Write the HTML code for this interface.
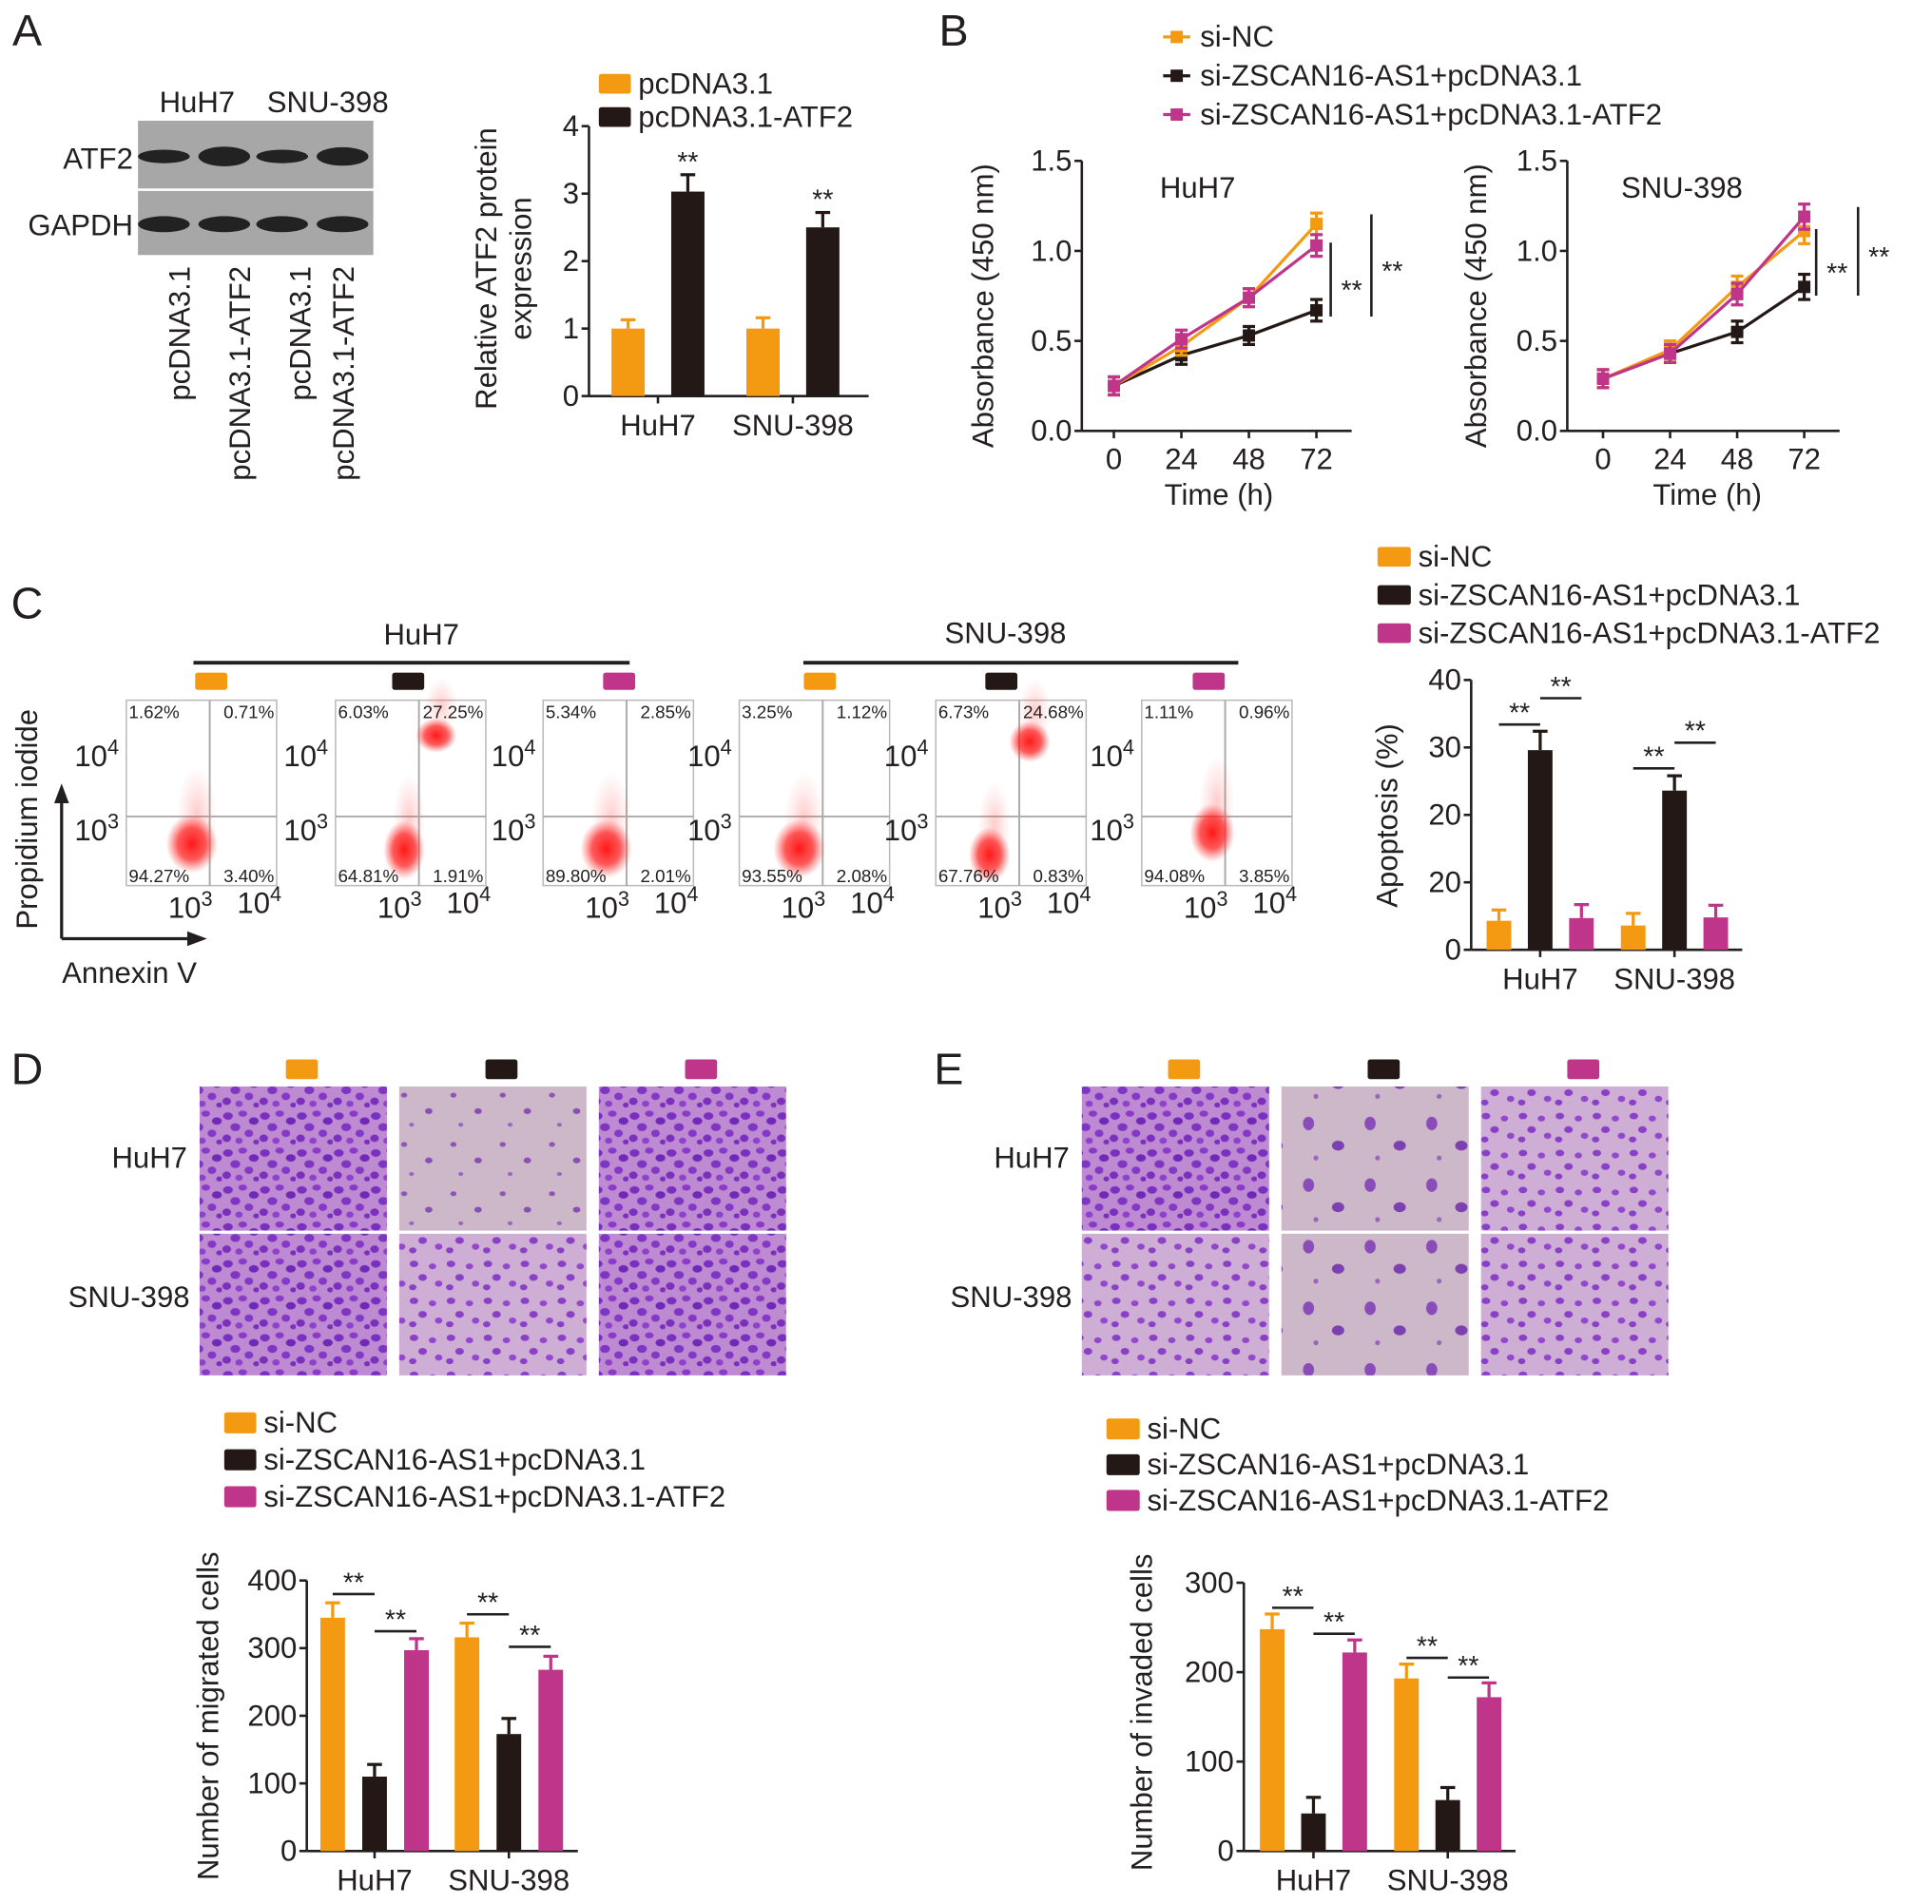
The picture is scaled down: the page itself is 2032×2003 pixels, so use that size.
<!DOCTYPE html>
<html><head><meta charset="utf-8"><style>
html,body{margin:0;padding:0;background:#fff}
svg{display:block}
text{font-family:"Liberation Sans",Arial,sans-serif;fill:#231f20}
</style></head><body>
<svg id="fig" xmlns="http://www.w3.org/2000/svg" width="2032" height="2003" viewBox="0 0 1568 1545.6" preserveAspectRatio="none">
<defs>
<radialGradient id="dot" cx="50%" cy="50%" r="50%"><stop offset="0%" stop-color="#ff0000" stop-opacity="1"/><stop offset="55%" stop-color="#ff1a1a" stop-opacity="0.8"/><stop offset="100%" stop-color="#ff4040" stop-opacity="0"/></radialGradient>
<radialGradient id="dotfaint" cx="50%" cy="50%" r="50%"><stop offset="0%" stop-color="#ff3030" stop-opacity="0.25"/><stop offset="100%" stop-color="#ff6060" stop-opacity="0"/></radialGradient>
<pattern id="dense" width="30" height="30" patternUnits="userSpaceOnUse">
<rect width="30" height="30" fill="#be8ad2"/>
<ellipse cx="5" cy="6" rx="4" ry="3" fill="#7a2fc0"/><ellipse cx="17" cy="4" rx="3.5" ry="2.5" fill="#8a3ac8"/>
<ellipse cx="26" cy="10" rx="4" ry="3" fill="#7028b8"/><ellipse cx="11" cy="15" rx="4" ry="3.2" fill="#7e35c2"/>
<ellipse cx="22" cy="20" rx="3.5" ry="3" fill="#8338c6"/><ellipse cx="4" cy="24" rx="3.5" ry="3" fill="#7a30bd"/>
<ellipse cx="14" cy="26" rx="3" ry="2.5" fill="#8e42cc"/><ellipse cx="28" cy="27" rx="2.5" ry="2" fill="#7a30bd"/>
</pattern>
<pattern id="medium" width="30" height="30" patternUnits="userSpaceOnUse">
<rect width="30" height="30" fill="#cfaed6"/>
<ellipse cx="6" cy="6" rx="3.5" ry="2.6" fill="#8a40c6"/><ellipse cx="21" cy="8" rx="3" ry="2.4" fill="#9247cc"/>
<ellipse cx="13" cy="17" rx="3.5" ry="2.8" fill="#8a40c6"/><ellipse cx="26" cy="22" rx="3" ry="2.5" fill="#9247cc"/>
<ellipse cx="5" cy="25" rx="3" ry="2.4" fill="#8a40c6"/>
</pattern>
<pattern id="sparse" width="40" height="40" patternUnits="userSpaceOnUse">
<rect width="40" height="40" fill="#cdb8c9"/>
<ellipse cx="8" cy="9" rx="2.5" ry="2" fill="#8e55b5"/><ellipse cx="28" cy="22" rx="3" ry="2.4" fill="#8a4fb2"/>
<ellipse cx="14" cy="33" rx="2" ry="1.6" fill="#9a66bd"/>
</pattern>
<pattern id="sparseBig" width="50" height="50" patternUnits="userSpaceOnUse">
<rect width="50" height="50" fill="#cdb8c9"/>
<ellipse cx="12" cy="12" rx="4.5" ry="5.5" fill="#8a4cb8"/><ellipse cx="36" cy="30" rx="5" ry="4" fill="#7d40b0"/>
<ellipse cx="18" cy="40" rx="2" ry="2" fill="#9a66bd"/>
</pattern>
</defs>
<g id="root"></g>
</svg>
<script>
// ===== Data =====
const aCategories = ["HuH7", "SNU-398"];
const aSeries = ["pcDNA3.1", "pcDNA3.1-ATF2"];
const aValues = [[1.0, 3.03], [1.0, 2.5]];
const aErrors = [[0.13, 0.25], [0.16, 0.22]];
const aTicks = [0, 1, 2, 3, 4];
const bTimes = [0, 24, 48, 72];
const bTickLabels = ["0", "24", "48", "72"];
const bYTicks = [0, 0.5, 1.0, 1.5];
const bYTickLabels = ["0.0", "0.5", "1.0", "1.5"];
const bSeriesNames = ["si-NC", "si-ZSCAN16-AS1+pcDNA3.1", "si-ZSCAN16-AS1+pcDNA3.1-ATF2"];
const huh7NC = [0.25, 0.47, 0.74, 1.15];
const huh7Si = [0.25, 0.42, 0.53, 0.67];
const huh7ATF2 = [0.25, 0.51, 0.74, 1.03];
const huh7Err = [0.05, 0.05, 0.05, 0.06];
const snuNC = [0.29, 0.45, 0.8, 1.11];
const snuSi = [0.29, 0.43, 0.55, 0.8];
const snuATF2 = [0.29, 0.43, 0.76, 1.19];
const snuErr = [0.05, 0.05, 0.06, 0.07];
const groups = ["HuH7", "SNU-398"];
const apoValues = [[4.3, 29.6, 4.7], [3.6, 23.6, 4.8]];
const apoErrors = [[1.6, 2.8, 2.0], [1.8, 2.2, 1.8]];
const apoTicks = [0, 10, 20, 30, 40];
const apoTickLabels = ["0", "20", "20", "30", "40"];
const apoSig = [[0, 0, 1, 33.4], [0, 1, 2, 37.3], [1, 0, 1, 26.9], [1, 1, 2, 30.7]];
const flowPct = [
  ["1.62%", "0.71%", "94.27%", "3.40%"],
  ["6.03%", "27.25%", "64.81%", "1.91%"],
  ["5.34%", "2.85%", "89.80%", "2.01%"],
  ["3.25%", "1.12%", "93.55%", "2.08%"],
  ["6.73%", "24.68%", "67.76%", "0.83%"],
  ["1.11%", "0.96%", "94.08%", "3.85%"]
];
const migValues = [[345, 110, 297], [316, 173, 268]];
const migErrors = [[22, 18, 17], [21, 23, 20]];
const migTicks = [0, 100, 200, 300, 400];
const migSig = [[0, 0, 1, 380], [0, 1, 2, 325], [1, 0, 1, 350], [1, 1, 2, 302]];
const invValues = [[248, 42, 222], [193, 57, 172]];
const invErrors = [[17, 18, 14], [16, 14, 16]];
const invTicks = [0, 100, 200, 300];
const invSig = [[0, 0, 1, 272], [0, 1, 2, 243], [1, 0, 1, 216], [1, 1, 2, 194]];

// ===== Helpers =====
const NS = "http://www.w3.org/2000/svg";
const root = document.getElementById("root");
const COL = ["#f39a12", "#231815", "#bf3589"];
function el(tag, attrs, parent, txt) {
  const e = document.createElementNS(NS, tag);
  for (const k in attrs) e.setAttribute(k, attrs[k]);
  if (txt !== undefined) e.textContent = txt;
  (parent || root).appendChild(e);
  return e;
}
function grp(name, parent) {
  const g = el("g", {}, parent);
  
  
  return g;
}
function txt(parent, name, x, y, s, size, anchor, rot) {
  const t = el("text", {x: x, y: y, "font-size": size, "text-anchor": anchor || "start"}, parent, s);
  if (rot) t.setAttribute("transform", "rotate(" + rot + " " + x + " " + y + ")");
  
  
  return t;
}
function supText(parent, name, x, y, base, exp, size) {
  const t = el("text", {x: x, y: y, "font-size": size, "text-anchor": "middle"}, parent);
  
  
  el("tspan", {}, t, base);
  el("tspan", {dy: -size * 0.4, "font-size": size * 0.7}, t, exp);
  return t;
}
function line(parent, x1, y1, x2, y2, w, c) {
  return el("line", {x1: x1, y1: y1, x2: x2, y2: y2, stroke: c || "#231f20", "stroke-width": w || 2}, parent);
}
function panelLabel(s, x, y) {
  txt(root, "panel-label-" + s.toLowerCase(), x, y, s, 36, "middle");
}

function barChart(cfg) {
  const g = grp(cfg.name);
  const ys = v => cfg.y0 - (v - cfg.vmin) / (cfg.vmax - cfg.vmin) * (cfg.y0 - cfg.yTop);
  const xc = (gi, si, n) => cfg.g0 + gi * cfg.gStep + (si - (n - 1) / 2) * cfg.bStep;
  line(g, cfg.ax, cfg.y0, cfg.ax, cfg.yTop, 2);
  line(g, cfg.ax, cfg.y0, cfg.xEnd, cfg.y0, 2);
  cfg.ticks.forEach((t, i) => {
    const y = ys(t);
    line(g, cfg.ax - 6, y, cfg.ax, y, 2);
    txt(g, "y-tick-label", cfg.ax - 8, y + 8, cfg.tickLabels ? cfg.tickLabels[i] : String(t), cfg.fs, "end");
  });
  cfg.values.forEach((row, gi) => {
    const n = row.length;
    const cx = cfg.g0 + gi * cfg.gStep;
    line(g, cx, cfg.y0, cx, cfg.y0 + 6, 2);
    txt(g, "x-tick-label", cx, cfg.y0 + 32, cfg.cats[gi], cfg.fs, "middle");
    row.forEach((v, si) => {
      const x = xc(gi, si, n);
      const top = ys(v), et = ys(v + cfg.errors[gi][si]);
      const c = cfg.colors[si];
      const r = el("rect", {x: x - cfg.bw / 2, y: top, width: cfg.bw, height: cfg.y0 - top, fill: c}, g);
      
      
      line(g, x, top, x, et, 2.5, c);
      line(g, x - 6, et, x + 6, et, 2.5, c);
    });
  });
  (cfg.sig || []).forEach(sg => {
    const gi = sg[0], n = cfg.values[gi].length;
    const x1 = xc(gi, sg[1], n), x2 = xc(gi, sg[2], n), y = ys(sg[3]);
    line(g, x1, y, x2, y, 2);
    txt(g, "significance-stars", (x1 + x2) / 2, y - 2, "**", 22, "middle");
  });
  (cfg.stars || []).forEach(st => {
    const gi = st[0], si = st[1], n = cfg.values[gi].length;
    const x = xc(gi, si, n), y = ys(cfg.values[gi][si] + cfg.errors[gi][si]);
    txt(g, "significance-stars", x, y - 3, "**", 22, "middle");
  });
  if (cfg.ytitle) {
    cfg.ytitle.forEach((s, i) => txt(g, "y-axis-title", cfg.ytx + i * 28, cfg.yty, s, 24, "middle", -90));
  }
  return g;
}

function lineChart(cfg) {
  const g = grp(cfg.name);
  const ys = v => cfg.y0 - v / 1.5 * (cfg.y0 - cfg.yTop);
  const xs = t => cfg.x0 + t / 72 * (cfg.x72 - cfg.x0);
  line(g, cfg.ax, cfg.y0, cfg.ax, cfg.yTop, 2);
  line(g, cfg.ax, cfg.y0, cfg.xEnd, cfg.y0, 2);
  bYTicks.forEach((t, i) => {
    line(g, cfg.ax - 6, ys(t), cfg.ax, ys(t), 2);
    txt(g, "y-tick-label", cfg.ax - 8, ys(t) + 8, bYTickLabels[i], 24, "end");
  });
  bTimes.forEach((t, i) => {
    line(g, xs(t), cfg.y0, xs(t), cfg.y0 + 6, 2);
    txt(g, "x-tick-label", xs(t), cfg.y0 + 31, bTickLabels[i], 24, "middle");
  });
  txt(g, "x-axis-title", (cfg.x0 + cfg.x72) / 2 + 3, cfg.y0 + 60, "Time (h)", 24, "middle");
  txt(g, "y-axis-title", cfg.ytx, (cfg.y0 + cfg.yTop) / 2 + 8, "Absorbance (450 nm)", 24, "middle", -90);
  txt(g, "chart-title", cfg.titleX, cfg.yTop + 30, cfg.title, 24, "middle");
  [1, 0, 2].forEach(si => {
    const vals = cfg.series[si], c = COL[si];
    const pts = vals.map((v, i) => xs(bTimes[i]) + "," + ys(v)).join(" ");
    const pl = el("polyline", {points: pts, fill: "none", stroke: c, "stroke-width": 2.5}, g);
    
    
    vals.forEach((v, i) => {
      const x = xs(bTimes[i]), e = cfg.err[i];
      line(g, x, ys(v - e), x, ys(v + e), 2.5, c);
      line(g, x - 5, ys(v - e), x + 5, ys(v - e), 2.5, c);
      line(g, x - 5, ys(v + e), x + 5, ys(v + e), 2.5, c);
      const m = el("rect", {x: x - 5, y: ys(v) - 5, width: 10, height: 10, fill: c}, g);
      
      
    });
  });
  line(g, cfg.s1x, cfg.s1y1, cfg.s1x, cfg.s1y2, 2);
  line(g, cfg.s2x, cfg.s2y1, cfg.s2x, cfg.s2y2, 2);
  txt(g, "significance-stars", cfg.s1x + 17, (cfg.s1y1 + cfg.s1y2) / 2 + 16, "**", 22, "middle");
  txt(g, "significance-stars", cfg.s2x + 17, (cfg.s2y1 + cfg.s2y2) / 2 + 12, "**", 22, "middle");
}

function legendBox(name, x, y, labels, size, sw, sh) {
  const g = grp(name);
  labels.forEach((s, i) => {
    const r = el("rect", {x: x, y: y + i * size.step - sh / 2, width: sw, height: sh, fill: COL[i], rx: 2}, g);
    
    
    txt(g, "legend-entry", x + sw + 6, y + i * size.step + 8, s, 24);
  });
}

// ===== Panel A =====
panelLabel("A", 22, 37);
(function () {
  const g = grp("western-blot");
  txt(g, "lane-header-huh7", 160, 91, "HuH7", 24, "middle");
  txt(g, "lane-header-snu398", 266, 91, "SNU-398", 24, "middle");
  el("rect", {x: 112, y: 98, width: 191, height: 55, fill: "#a7a7a7"}, g);
  el("rect", {x: 112, y: 155, width: 191, height: 52, fill: "#a7a7a7"}, g);
  const lanes = [133, 182, 229, 278];
  const atfH = [8, 13, 8, 12];
  lanes.forEach((x, i) => {
    el("ellipse", {cx: x, cy: 127, rx: 21, ry: atfH[i] / 2 + 1.5, fill: "#222"}, g);
    el("ellipse", {cx: x, cy: 182, rx: 21, ry: 6.5, fill: "#222"}, g);
  });
  txt(g, "row-label-atf2", 108, 137, "ATF2", 24, "end");
  txt(g, "row-label-gapdh", 108, 191, "GAPDH", 24, "end");
  const lab = ["pcDNA3.1", "pcDNA3.1-ATF2", "pcDNA3.1", "pcDNA3.1-ATF2"];
  const lx = [154, 203, 252, 287];
  lab.forEach((s, i) => txt(g, "lane-label", lx[i], 216, s, 24, "end", -90));
})();
legendBox("legend-a", 486, 68, aSeries, {step: 27}, 26, 16);
barChart({name: "chart-a-atf2-expression", ax: 478, y0: 321.5, yTop: 102.4, vmin: 0, vmax: 4, xEnd: 705,
  ticks: aTicks, values: aValues, errors: aErrors, cats: aCategories, colors: COL,
  g0: 534, gStep: 109.5, bStep: 48.5, bw: 27, fs: 24, stars: [[0, 1], [1, 1]],
  ytitle: ["Relative ATF2 protein", "expression"], ytx: 403, yty: 218});

// ===== Panel B =====
panelLabel("B", 774, 37);
(function () {
  const g = grp("legend-b");
  bSeriesNames.forEach((s, i) => {
    const y = 24 + i * 31.5;
    line(g, 944, y + 6, 966, y + 6, 2.5, COL[i]);
    const r = el("rect", {x: 950, y: y + 1, width: 10, height: 10, fill: COL[i]}, g);
    
    
    txt(g, "legend-entry", 974, y + 14, s, 24);
  });
})();
lineChart({name: "chart-b-huh7", ax: 878, y0: 349.8, yTop: 130.6, x0: 904, x72: 1068.4, xEnd: 1097,
  series: [huh7NC, huh7Si, huh7ATF2], err: huh7Err, ytx: 806, title: "HuH7", titleX: 972,
  s1x: 1080, s1y1: 197, s1y2: 257, s2x: 1113, s2y1: 174, s2y2: 257});
lineChart({name: "chart-b-snu398", ax: 1272, y0: 349.8, yTop: 130.6, x0: 1301, x72: 1464.3, xEnd: 1493,
  series: [snuNC, snuSi, snuATF2], err: snuErr, ytx: 1206, title: "SNU-398", titleX: 1365,
  s1x: 1474, s1y1: 186, s1y2: 240, s2x: 1508, s2y1: 168, s2y2: 240});

// ===== Panel C =====
panelLabel("C", 22, 502);
(function () {
  const g = grp("flow-cytometry");
  txt(g, "group-title-huh7", 342, 523, "HuH7", 24, "middle");
  txt(g, "group-title-snu398", 816, 522, "SNU-398", 24, "middle");
  line(g, 157, 538, 511, 538, 3);
  line(g, 652, 538, 1005, 538, 3);
  const boxes = [102.5, 272.3, 440.8, 600, 759.5, 926.6];
  const sw = [158.4, 318.3, 489.5, 652.4, 799.7, 968];
  const swc = [0, 1, 2, 0, 1, 2];
  const clusters = [[[155.7, 685, 15, 17]], [[328, 690, 12, 17], [354, 597, 12, 10]], [[492, 689, 15, 17]],
    [[648.6, 689, 15, 17]], [[803, 694, 12, 16], [835.7, 602, 12, 12]], [[983.8, 676, 13, 17]]];
  boxes.forEach((x, i) => {
    const b = grp("flow-plot-" + (i + 1), g);
    const r = el("rect", {x: sw[i], y: 546, width: 26, height: 14, rx: 2, fill: COL[swc[i]]}, b);
    
    
    el("rect", {x: x, y: 568.4, width: 122, height: 150.5, fill: "#fff", stroke: "#bbb", "stroke-width": 1.2}, b);
    const vx = x + 122 * 0.555;
    line(b, vx, 568.4, vx, 719, 1.5, "#aaa");
    line(b, x, 662.8, x + 122, 662.8, 1.5, "#aaa");
    clusters[i].forEach(c => {
      el("ellipse", {cx: c[0] + 4, cy: c[1] - 25, rx: c[2] * 1.1, ry: c[3] * 2.2, fill: "url(#dotfaint)"}, b);
      el("ellipse", {cx: c[0], cy: c[1], rx: c[2] * 1.4, ry: c[3] * 1.4, fill: "url(#dot)", opacity: 0.9}, b);
    });
    const p = flowPct[i];
    txt(b, "quadrant-ul", x + 2, 583, p[0], 14.5);
    txt(b, "quadrant-ur", x + 120, 583, p[1], 14.5, "end");
    txt(b, "quadrant-ll", x + 2, 716, p[2], 14.5);
    txt(b, "quadrant-lr", x + 120, 716, p[3], 14.5, "end");
    supText(b, "y-tick-10e4", x - 24, 622, "10", "4", 24);
    supText(b, "y-tick-10e3", x - 24, 682, "10", "3", 24);
    supText(b, "x-tick-10e3", x + 52, 745, "10", "3", 24);
    supText(b, "x-tick-10e4", x + 108, 741, "10", "4", 24);
  });
  line(g, 50, 762, 50, 648, 2.5);
  el("polygon", {points: "50,636 44,652 56,652", fill: "#231f20"}, g);
  line(g, 50, 762, 156, 762, 2.5);
  el("polygon", {points: "168,762 152,756 152,768", fill: "#231f20"}, g);
  txt(g, "y-axis-title-pi", 30, 665, "Propidium iodide", 24, "middle", -90);
  txt(g, "x-axis-title-annexin", 105, 798, "Annexin V", 24, "middle");
})();
legendBox("legend-c", 1118, 452, bSeriesNames, {step: 31}, 27, 16);
barChart({name: "chart-c-apoptosis", ax: 1194, y0: 771, yTop: 552, vmin: 0, vmax: 40, xEnd: 1414,
  ticks: apoTicks, tickLabels: apoTickLabels, values: apoValues, errors: apoErrors, cats: groups, colors: COL,
  g0: 1250, gStep: 109, bStep: 33.5, bw: 20, fs: 24, sig: apoSig,
  ytitle: ["Apoptosis (%)"], ytx: 1134, yty: 662});

// ===== Panels D & E =====
function imageGrid(name, x0, patterns, rowLabelX) {
  const g = grp(name);
  const xs = [x0, x0 + 162, x0 + 324];
  xs.forEach((x, i) => {
    const r = el("rect", {x: x + 70, y: 860, width: 26, height: 16, rx: 2, fill: COL[i]}, g);
    
    
    [[882, 117], [1001.5, 115]].forEach((ry, ri) => {
      const im = el("rect", {x: x, y: ry[0], width: 152, height: ry[1], fill: "url(#" + patterns[ri][i] + ")"}, g);
      
      
    });
  });
  txt(g, "row-label-huh7", rowLabelX, 948, "HuH7", 24, "end");
  txt(g, "row-label-snu398", rowLabelX + 2, 1061, "SNU-398", 24, "end");
}
panelLabel("D", 22, 880);
panelLabel("E", 770, 880);
imageGrid("transwell-migration-images", 162, [["dense", "sparse", "dense"], ["dense", "medium", "dense"]], 152);
imageGrid("transwell-invasion-images", 878, [["dense", "sparseBig", "medium"], ["medium", "sparseBig", "medium"]], 868);
legendBox("legend-d", 182, 1155, bSeriesNames, {step: 30}, 26, 17);
legendBox("legend-e", 898, 1160, bSeriesNames, {step: 29}, 27, 17);
barChart({name: "chart-d-migrated", ax: 249, y0: 1502.6, yTop: 1283, vmin: 0, vmax: 400, xEnd: 469,
  ticks: migTicks, values: migValues, errors: migErrors, cats: groups, colors: COL,
  g0: 304, gStep: 109, bStep: 34, bw: 20, fs: 24, sig: migSig,
  ytitle: ["Number of migrated cells"], ytx: 177, yty: 1393});
barChart({name: "chart-e-invaded", ax: 1009.5, y0: 1502.6, yTop: 1284.8, vmin: 0, vmax: 300, xEnd: 1230,
  ticks: invTicks, values: invValues, errors: invErrors, cats: groups, colors: COL,
  g0: 1066, gStep: 109, bStep: 33.5, bw: 20, fs: 24, sig: invSig,
  ytitle: ["Number of invaded cells"], ytx: 935, yty: 1390});
</script>
</body></html>
